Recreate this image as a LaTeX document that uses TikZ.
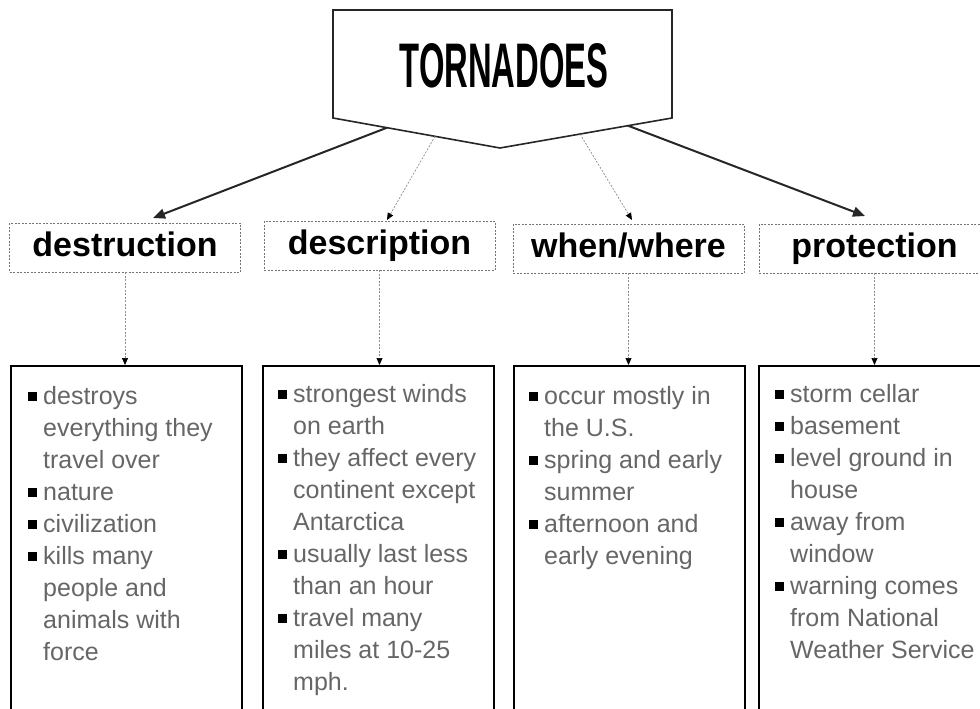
\documentclass[tikz,border=0pt]{standalone}
\usepackage{fontspec}
\setmainfont{Liberation Sans}
\usetikzlibrary{arrows.meta}
\newcommand{\bitem}[1]{\strut\makebox[15pt][l]{\textcolor{black}{\raisebox{4pt}{\rule{9pt}{9pt}}}}#1}
\newcommand{\contl}[1]{\strut\hspace*{15pt}#1}
\begin{document}
\begin{tikzpicture}[x=1pt,y=-1pt,
  catbox/.style={draw=black!55, line width=0.7pt, dash pattern=on 2pt off 1.5pt, minimum width=231pt, minimum height=49pt, inner sep=0pt, text height=24pt, text depth=7pt, font=\fontsize{34}{40}\selectfont\bfseries},
  contbox/.style={draw=black, line width=1.5pt, minimum width=231pt, minimum height=360pt, anchor=north west, inner sep=0pt},
  conttext/.style={anchor=north west, inner sep=0pt, align=left, text=black!60, font=\fontsize{25}{32}\selectfont},
  thickarrow/.style={draw=black!85, line width=2pt, -{Triangle[length=12pt,width=10pt]}},
  thinarrow/.style={draw=black!45, line width=0.7pt, dash pattern=on 2pt off 1.5pt, -{Triangle[length=7pt,width=6pt,color=black]}}
  ]
\useasboundingbox (0,0) rectangle (980,709);
% title
\draw[line width=1.6pt, draw=black!85, fill=white] (333,10) -- (672,10) -- (672,118) -- (500,148) -- (333,118) -- cycle;
\node[inner sep=0pt, xscale=0.52, font=\fontsize{63}{63}\selectfont\bfseries] (title) at (504,66) {TORNADOES};
\coordinate (s1) at (387,127.7);
\coordinate (s2) at (435,136.3);
\coordinate (s3) at (580,134);
\coordinate (s4) at (628,125.7);
% categories
\node[catbox] (destr) at (125,247.5) {destruction};
\node[catbox] (descr) at (379.5,245.5) {description};
\node[catbox] (whenw) at (628.5,248.5) {when/where};
\node[catbox] (prot) at (874.5,248.5) {protection};
\coordinate (e1) at (153,218);
\coordinate (e2) at (387,220);
\coordinate (e3) at (632,220);
\coordinate (e4) at (865,216);
\draw[thickarrow] (s1) -- (e1);
\draw[thinarrow] (s2) -- (e2);
\draw[thinarrow] (s3) -- (e3);
\draw[thickarrow] (s4) -- (e4);
% content boxes
\node[contbox] (b1) at (10,365) {};
\node[contbox] (b2) at (262,365) {};
\node[contbox] (b3) at (513,365) {};
\node[contbox] (b4) at (758,365) {};
\draw[thinarrow] (destr.south) -- (destr.south |- b1.north);
\draw[thinarrow] (descr.south) -- (descr.south |- b2.north);
\draw[thinarrow] (whenw.south) -- (whenw.south |- b3.north);
\draw[thinarrow] (prot.south) -- (prot.south |- b4.north);
% texts
\node[conttext] (t1) at (28,382) {\bitem{destroys}\\ \contl{everything they}\\ \contl{travel over}\\ \bitem{nature}\\ \bitem{civilization}\\ \bitem{kills many}\\ \contl{people and}\\ \contl{animals with}\\ \contl{force}};
\node[conttext] (t2) at (278,380) {\bitem{strongest winds}\\ \contl{on earth}\\ \bitem{they affect every}\\ \contl{continent except}\\ \contl{Antarctica}\\ \bitem{usually last less}\\ \contl{than an hour}\\ \bitem{travel many}\\ \contl{miles at 10-25}\\ \contl{mph.}};
\node[conttext] (t3) at (529,382) {\bitem{occur mostly in}\\ \contl{the U.S.}\\ \bitem{spring and early}\\ \contl{summer}\\ \bitem{afternoon and}\\ \contl{early evening}};
\node[conttext] (t4) at (775,380) {\bitem{storm cellar}\\ \bitem{basement}\\ \bitem{level ground in}\\ \contl{house}\\ \bitem{away from}\\ \contl{window}\\ \bitem{warning comes}\\ \contl{from National}\\ \contl{Weather Service}};
\end{tikzpicture}
\end{document}
